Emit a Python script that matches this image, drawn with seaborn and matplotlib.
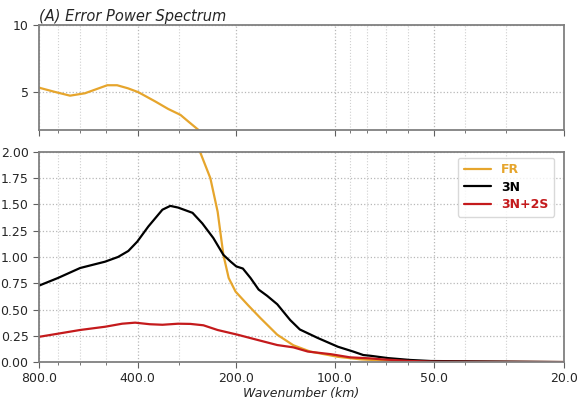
import numpy as np
import pandas as pd
import matplotlib
matplotlib.use("Agg")
import matplotlib.pyplot as plt
import matplotlib.ticker as mticker
import seaborn as sns

# ---- data (wavelength in km, error power) ----
fr_km = [800, 715, 643, 579, 495, 462, 428, 398, 353, 323, 296, 280, 261, 258,
         240, 228, 219, 211, 201, 184, 169, 150, 134, 119, 98, 83, 63, 50, 20]
fr_val = [5.32, 5.00, 4.72, 4.90, 5.50, 5.50, 5.27, 4.98, 4.28, 3.73, 3.28, 2.78, 2.16, 2.00,
          1.75, 1.43, 1.02, 0.80, 0.67, 0.54, 0.42, 0.26, 0.16, 0.10, 0.05, 0.025, 0.008, 0.003, 0.0]

n3_km = [800, 700, 599, 503, 459, 427, 401, 371, 336, 318, 301, 272, 254, 235, 219, 208,
         200, 191, 181, 171, 161, 150, 137, 128, 113, 98, 88, 82, 78, 69, 59, 51, 20]
n3_val = [0.727, 0.80, 0.895, 0.955, 1.00, 1.057, 1.146, 1.29, 1.45, 1.486, 1.47, 1.42, 1.32,
          1.18, 1.02, 0.955, 0.91, 0.89, 0.80, 0.69, 0.63, 0.55, 0.40, 0.31, 0.23, 0.146,
          0.10, 0.067, 0.06, 0.038, 0.02, 0.01, 0.0]

n3s2_km = [800, 700, 600, 503, 446, 407, 367, 336, 301, 276, 252, 228, 198, 172, 150, 134,
           121, 103, 90, 78, 72, 59, 50, 20]
n3s2_val = [0.24, 0.27, 0.305, 0.336, 0.365, 0.375, 0.36, 0.355, 0.365, 0.363, 0.35, 0.305,
            0.26, 0.21, 0.162, 0.14, 0.10, 0.075, 0.045, 0.035, 0.026, 0.01, 0.004, 0.0]

series_names = ["FR", "3N", "3N+2S"]
series_colors = ["#E6A52C", "#000000", "#C41A1C"]

major_km = [800, 400, 200, 100, 50, 20]
major_labels = ["800.0", "400.0", "200.0", "100.0", "50.0", "20.0"]
minor_km = [700, 600, 500, 300, 90, 80, 70, 60, 40, 30]

df = pd.concat([
    pd.DataFrame({"km": fr_km, "val": fr_val, "series": "FR"}),
    pd.DataFrame({"km": n3_km, "val": n3_val, "series": "3N"}),
    pd.DataFrame({"km": n3s2_km, "val": n3s2_val, "series": "3N+2S"}),
], ignore_index=True)

sns.set_style("white")
plt.rcParams["font.family"] = ["DejaVu Sans"]

fig = plt.figure(figsize=(5.81, 4.05), dpi=100)
ax_top = fig.add_axes([0.067, 0.679, 0.904, 0.259])
ax_bot = fig.add_axes([0.067, 0.106, 0.904, 0.519])

palette = dict(zip(series_names, series_colors))

for ax in (ax_top, ax_bot):
    sns.lineplot(data=df, x="km", y="val", hue="series", hue_order=series_names,
                 palette=palette, estimator=None, sort=False, linewidth=1.6,
                 ax=ax, legend=(ax is ax_bot))
    ax.set_xscale("log")
    ax.set_xlim(800, 20)
    ax.xaxis.set_major_locator(mticker.FixedLocator(major_km))
    ax.xaxis.set_minor_locator(mticker.FixedLocator(minor_km))
    ax.xaxis.set_minor_formatter(mticker.NullFormatter())
    ax.grid(True, which="major", axis="both", color="#b8b8b8", linestyle=":", linewidth=0.9)
    ax.grid(True, which="minor", axis="x", color="#d0d0d0", linestyle=":", linewidth=0.8)
    for s in ax.spines.values():
        s.set_visible(True)
        s.set_color("#808080")
        s.set_linewidth(1.3)
    ax.tick_params(axis="both", which="major", direction="out", length=4, width=0.8,
                   color="#606060", labelsize=9, bottom=True, left=True)
    ax.tick_params(axis="x", which="minor", direction="out", length=2.5, width=0.6,
                   color="#606060", bottom=True)
    ax.set_ylabel("")
    ax.set_xlabel("")

ax_top.set_ylim(2.15, 10)
ax_top.set_yticks([5, 10])
ax_top.set_xticklabels([])
ax_top.set_title("(A) Error Power Spectrum", loc="left", fontsize=10.5, style="italic", pad=3)

ax_bot.set_ylim(0, 2.0)
ax_bot.set_yticks(np.arange(0, 2.01, 0.25))
ax_bot.yaxis.set_major_formatter(mticker.FormatStrFormatter("%.2f"))
ax_bot.set_xticklabels(major_labels)
ax_bot.set_xlabel("Wavenumber (km)", fontsize=9, style="italic", labelpad=1)

leg = ax_bot.legend(loc="upper right", fontsize=9, frameon=True, handlelength=2.2,
                    borderpad=0.45, labelspacing=0.35, borderaxespad=0.3,
                    bbox_to_anchor=(0.988, 0.99))
for txt, col in zip(leg.get_texts(), series_colors):
    txt.set_color(col)
    txt.set_fontweight("bold")
leg.get_frame().set_edgecolor("#d0d0d0")

fig.savefig("out.png", dpi=100)
